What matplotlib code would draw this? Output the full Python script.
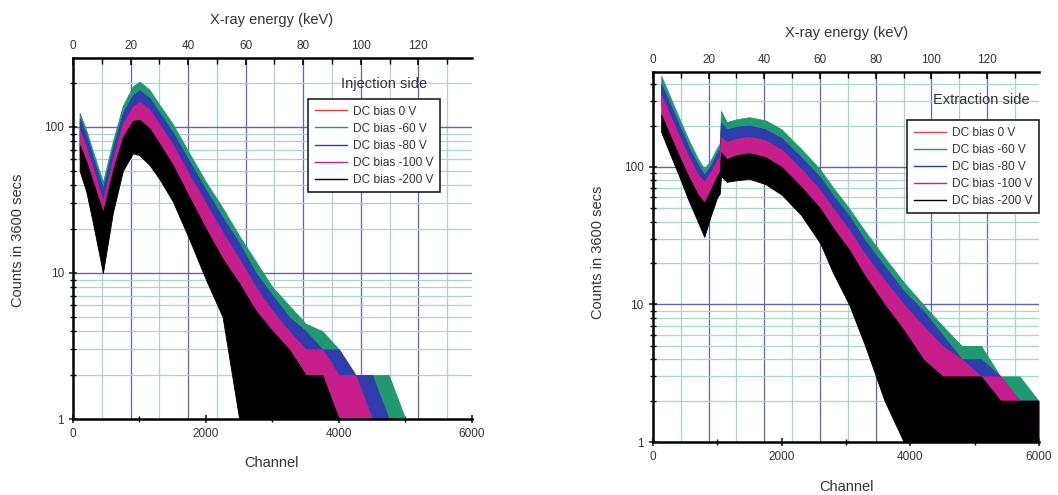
"""Two X-ray spectra (injection / extraction side) for several DC bias values."""

import matplotlib.pyplot as plt
from matplotlib.lines import Line2D
from matplotlib.ticker import FixedLocator, NullFormatter

plt.rcParams['font.family'] = ['Liberation Sans', 'DejaVu Sans']

# channel -> energy calibration
KEV_PER_CHANNEL = 20 / 866

bias_labels = ["DC bias 0 V", "DC bias -60 V", "DC bias -80 V", "DC bias -100 V", "DC bias -200 V"]
bias_colors = ["#e8404a", "#1f9a70", "#2e3cae", "#c81e8c", "#000000"]

# ---- injection side: upper / lower envelopes of the noisy spectra ----
ch_inj = [100, 200, 300, 450, 600, 750, 900, 1000, 1150, 1300, 1500, 1750, 2000,
          2250, 2500, 2750, 3000, 3250, 3500, 3750, 4000, 4250, 4500, 4750, 5000]
red_up_inj = [110, 85, 60, 37, 70, 122, 162, 172, 152, 120, 88, 55, 35, 23, 15, 10, 8, 5, 4, 3, 2, 2, 2, 1, 1]
red_lo_inj = [70, 54, 38, 22, 44, 78, 105, 112, 98, 78, 57, 35, 22, 14, 8, 4, 2, 1, 1, 1, 1, 1, 1, 1, 1]
green_up_inj = [125, 95, 68, 42, 80, 140, 190, 205, 180, 142, 105, 66, 42, 28, 18, 12, 8, 6, 4.5, 4, 3, 2, 2, 2, 1]
green_lo_inj = [75, 58, 40, 24, 48, 85, 115, 122, 108, 85, 62, 38, 24, 15, 9, 5, 2, 1, 1, 1, 1, 1, 1, 1, 1]
blue_up_inj = [115, 88, 62, 38, 72, 125, 165, 178, 158, 125, 92, 58, 37, 24, 16, 10, 7, 5, 4, 3, 3, 2, 2, 1, 1]
blue_lo_inj = [70, 54, 38, 22, 44, 78, 105, 112, 98, 78, 57, 35, 22, 14, 8, 4, 2, 1, 1, 1, 1, 1, 1, 1, 1]
mag_up_inj = [95, 72, 52, 31, 60, 105, 138, 148, 132, 104, 76, 47, 30, 19, 12.5, 8, 5.5, 4, 3, 3, 2, 2, 1, 1, 1]
mag_lo_inj = [60, 46, 33, 19, 38, 68, 92, 98, 86, 68, 49, 29, 17, 10, 6, 3, 1, 1, 1, 1, 1, 1, 1, 1, 1]
black_up_inj = [75, 58, 42, 26, 50, 85, 110, 112, 98, 77, 55, 33, 20, 12.5, 8.5, 5.5, 4, 3, 2, 2, 1, 1, 1, 1, 1]
black_lo_inj = [50, 36, 22, 10, 26, 50, 66, 64, 55, 44, 31, 17, 9, 5, 1, 1, 1, 1, 1, 1, 1, 1, 1, 1, 1]

# ---- extraction side ----
ch_ext = [130, 250, 400, 550, 700, 800, 900, 1000, 1040, 1060, 1150, 1300, 1500, 1750, 2000,
          2300, 2600, 2800, 3050, 3300, 3600, 3900, 4200, 4500, 4800, 5100, 5400, 5700, 5990]
red_up_ext = [390, 290, 200, 138, 100, 85, 100, 122, 130, 200, 182, 190, 195, 182, 158,
              115, 82, 60, 43, 29, 19, 14, 10, 6, 4, 4, 3, 2, 2]
red_lo_ext = [280, 205, 140, 96, 70, 58, 68, 84, 90, 135, 125, 132, 136, 128, 110,
              80, 56, 41, 28, 18, 11, 6, 3, 1, 1, 1, 1, 1, 1]
green_up_ext = [460, 340, 232, 160, 115, 97, 112, 138, 148, 255, 212, 222, 230, 218, 188,
                136, 96, 71, 50, 34, 22, 14.5, 10, 7, 5, 5, 3, 3, 2]
green_lo_ext = [300, 225, 155, 105, 75, 62, 72, 90, 95, 150, 140, 148, 152, 143, 124,
                88, 62, 45, 31, 20, 12, 7, 4, 1, 1, 1, 1, 1, 1]
blue_up_ext = [400, 300, 205, 142, 104, 88, 102, 126, 134, 210, 188, 196, 200, 188, 162,
               118, 84, 62, 44, 29, 19, 12.5, 9, 6, 4, 4, 3, 2, 2]
blue_lo_ext = [280, 205, 140, 96, 70, 58, 68, 84, 90, 135, 125, 132, 136, 128, 110,
               80, 56, 41, 28, 18, 11, 6, 3, 1, 1, 1, 1, 1, 1]
mag_up_ext = [335, 248, 172, 120, 88, 78, 92, 112, 118, 165, 152, 160, 166, 156, 134,
              97, 68, 50, 35, 23, 15, 10, 7, 5, 4, 3, 3, 2, 2]
mag_lo_ext = [235, 175, 120, 84, 60, 50, 62, 78, 84, 118, 108, 115, 118, 110, 94,
              68, 47, 34, 23, 14, 8, 4, 2, 1, 1, 1, 1, 1, 1]
black_up_ext = [240, 178, 122, 86, 63, 55, 68, 86, 92, 128, 114, 122, 126, 118, 100,
                72, 50, 36, 25, 16, 10, 6.5, 4, 3, 3, 3, 2, 2, 2]
black_lo_ext = [180, 130, 88, 58, 40, 31, 44, 60, 64, 86, 78, 80, 82, 75, 63,
                45, 28, 17, 10, 5, 2, 1, 1, 1, 1, 1, 1, 1, 1]

GRID_MAJOR = "#6264b0"
GRID_MINOR = "#a9d6c6"
TEXT = "#333333"


def draw_panel(ax, ch, bands, ymax, side_label, side_xy, legend_loc, legend_anchor):
    for (lo, hi), color in zip(bands, bias_colors):
        ax.fill_between(ch, lo, hi, color=color, edgecolor=color, lw=0.6, zorder=2)

    ax.set_yscale("log")
    ax.set_xlim(0, 6000)
    ax.set_ylim(1, ymax)

    # grid: every 10 keV vertically, decades / sub-decades horizontally
    for e in range(10, 140, 10):
        c = GRID_MAJOR if e % 20 == 0 else GRID_MINOR
        ax.axvline(e / KEV_PER_CHANNEL, color=c, lw=0.9, zorder=0)
    for dec in (1, 10, 100):
        for m in range(2, 10):
            if dec * m < ymax:
                ax.axhline(dec * m, color=GRID_MINOR, lw=0.9, zorder=0)
    for v in (10, 100):
        ax.axhline(v, color=GRID_MAJOR, lw=1.0, zorder=0)

    ax.set_xticks([0, 2000, 4000, 6000])
    ax.xaxis.set_minor_locator(FixedLocator([1000, 3000, 5000]))
    ax.set_yticks([1, 10, 100])
    ax.set_yticklabels(["1", "10", "100"])
    ax.yaxis.set_minor_locator(FixedLocator([d * m for d in (1, 10, 100) for m in range(2, 10)]))
    ax.yaxis.set_minor_formatter(NullFormatter())
    ax.tick_params(axis="both", which="major", labelsize=8.5, colors="#222222",
                   labelcolor=TEXT, direction="inout", length=6, width=1.2)
    ax.tick_params(axis="both", which="minor", direction="inout", length=4, width=1.0)

    for s in ("left", "bottom"):
        ax.spines[s].set_linewidth(1.8)
    ax.spines["right"].set_visible(False)
    ax.spines["top"].set_visible(False)

    top = ax.twiny()
    top.set_xlim(0, 6000 * KEV_PER_CHANNEL)
    top.set_xticks(range(0, 140, 20))
    top.xaxis.set_minor_locator(FixedLocator(range(10, 140, 20)))
    top.tick_params(axis="x", which="major", labelsize=8.5, labelcolor=TEXT,
                    direction="in", length=5, width=1.2, pad=4)
    top.tick_params(axis="x", which="minor", direction="in", length=4, width=1.0)
    for s in ("left", "right", "bottom"):
        top.spines[s].set_visible(False)
    top.spines["top"].set_linewidth(1.8)

    ax.text(side_xy[0], side_xy[1], side_label, transform=ax.transAxes,
            ha="center", va="center", fontsize=10.5, color=TEXT, zorder=5)

    handles = [Line2D([], [], color=c, lw=1.0) for c in bias_colors]
    leg = ax.legend(handles, bias_labels, loc=legend_loc, bbox_to_anchor=legend_anchor,
                    fontsize=8.6, frameon=True, fancybox=False, framealpha=1,
                    edgecolor="#222222", handlelength=2.7, handletextpad=0.5,
                    labelspacing=0.42, borderpad=0.55, borderaxespad=0)
    leg.get_frame().set_linewidth(1.2)
    for t in leg.get_texts():
        t.set_color(TEXT)
    leg.set_zorder(6)


fig = plt.figure(figsize=(10.58, 4.95), dpi=100)
ax_inj = fig.add_axes([0.069, 0.1535, 0.377, 0.7295])
ax_ext = fig.add_axes([0.617, 0.107, 0.365, 0.7475])

draw_panel(ax_inj, ch_inj,
           [(red_lo_inj, red_up_inj), (green_lo_inj, green_up_inj), (blue_lo_inj, blue_up_inj),
            (mag_lo_inj, mag_up_inj), (black_lo_inj, black_up_inj)],
           297, "Injection side", (0.78, 0.928), "upper left", (0.589, 0.886))
draw_panel(ax_ext, ch_ext,
           [(red_lo_ext, red_up_ext), (green_lo_ext, green_up_ext), (blue_lo_ext, blue_up_ext),
            (mag_lo_ext, mag_up_ext), (black_lo_ext, black_up_ext)],
           490, "Extraction side", (0.85, 0.924), "upper right", (1.0, 0.870))

label_kw = dict(fontsize=10.5, color=TEXT)
fig.text(0.257, 0.96, "X-ray energy (keV)", ha="center", va="center", **label_kw)
fig.text(0.257, 0.065, "Channel", ha="center", va="center", **label_kw)
fig.text(0.017, 0.515, "Counts in 3600 secs", rotation=90, ha="center", va="center", **label_kw)
fig.text(0.800, 0.933, "X-ray energy (keV)", ha="center", va="center", **label_kw)
fig.text(0.800, 0.016, "Channel", ha="center", va="center", **label_kw)
fig.text(0.565, 0.49, "Counts in 3600 secs", rotation=90, ha="center", va="center", **label_kw)

fig.savefig("out.png", dpi=100)
